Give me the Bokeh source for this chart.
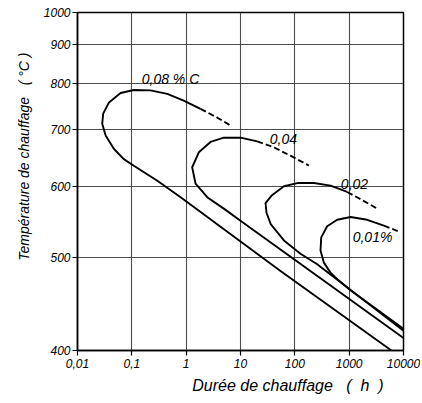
import numpy as np
from bokeh.plotting import figure
from bokeh.models import FixedTicker, CustomJSTickFormatter, Label, Title
from bokeh.embed import file_html
from bokeh.resources import INLINE

# ---- data: heating time (h) and temperature (°C) ----
hours_008 = [6000, 54.5, 0.79, 0.29, 0.107, 0.071, 0.047, 0.033, 0.0285, 0.0297,
             0.038, 0.062, 0.109, 0.22, 0.45, 0.9, 1.84]
temp_008 = [400, 484, 583, 609, 634, 645, 663, 688, 711, 732,
            756, 777, 784, 783, 775, 760, 742]
hours_008_dash = [1.84, 3.7, 6.5]
temp_008_dash = [742, 724, 708]

hours_004 = [10000, 224, 10.75, 4.93, 2.44, 1.49, 1.29, 1.71, 2.81, 4.93, 10, 20.3]
temp_004 = [412, 481, 547, 566, 583, 604, 631, 657, 676, 684, 684, 677]
hours_004_dash = [20.3, 41, 83, 181]
temp_004_dash = [677, 666, 651, 634]

hours_002 = [10000, 258, 127, 63, 36, 30.1, 28.9, 38, 63, 111, 224, 454, 921]
temp_002 = [419, 492, 505, 522, 544, 560, 574, 586, 600, 605, 605, 601, 591]
hours_002_dash = [921, 1618, 3283]
temp_002_dash = [591, 580, 566]

hours_001 = [10000, 1105, 637, 454, 342, 297, 306, 394, 603, 1059, 2149, 4344]
temp_001 = [421, 461, 473, 482, 494, 509, 526, 541, 550, 554, 550, 542]
hours_001_dash = [4344, 8810]
temp_001_dash = [542, 533]

curve_labels = ["0,08 % C", "0,04", "0,02", "0,01%"]
label_hours = [0.515, 61.6, 1253, 2692]
label_temps = [811, 682, 604, 527]

x_ticks = [0.01, 0.1, 1, 10, 100, 1000, 10000]
x_tick_labels = ["0,01", "0,1", "1", "10", "100", "1000", "10000"]
y_ticks_c = [400, 500, 600, 700, 800, 900, 1000]

NB = "\u00a0"
x_title = "Durée de chauffage" + NB * 3 + "(" + NB * 2 + "h" + NB * 2 + ")"
y_title = "Température de chauffage" + NB * 3 + "(" + NB + "°C" + NB + ")"


def inv_t(temp_c):
    """Arrhenius-type temperature axis: -1000 / T(K)."""
    return (-1000.0 / (np.asarray(temp_c, dtype=float) + 273.0)).tolist()


FONT = "Liberation Sans"

p = figure(x_axis_type="log", x_range=(0.01, 10000),
           y_range=(inv_t([400])[0], inv_t([1000])[0]),
           frame_width=326, frame_height=338,
           min_border_left=77, min_border_right=17,
           min_border_top=12, min_border_bottom=50,
           output_backend="svg", toolbar_location=None)

p.background_fill_color = "white"
p.border_fill_color = "white"
p.outline_line_color = "black"
p.outline_line_width = 1.5

# axes
p.xaxis.ticker = FixedTicker(ticks=x_ticks)
p.xaxis.formatter = CustomJSTickFormatter(
    args=dict(tvals=x_ticks, tlabels=x_tick_labels),
    code="""
    for (let i = 0; i < tvals.length; i++) {
        if (Math.abs(Math.log10(tvals[i]) - Math.log10(tick)) < 1e-6) return tlabels[i];
    }
    return "";
    """)
p.yaxis.ticker = FixedTicker(ticks=inv_t(y_ticks_c))
p.yaxis.formatter = CustomJSTickFormatter(
    code="return String(Math.round(-1000.0 / tick - 273.0));")

for ax in (p.xaxis, p.yaxis):
    ax.axis_line_color = "black"
    ax.axis_line_width = 1.5
    ax.major_tick_line_color = "black"
    ax.major_tick_line_width = 1.2
    ax.major_tick_out = 5
    ax.major_tick_in = 0
    ax.minor_tick_line_color = None
    ax.major_label_text_font = FONT
    ax.major_label_text_font_style = "italic"
    ax.major_label_text_font_size = "12px"
    ax.major_label_text_color = "black"
p.yaxis.major_label_standoff = 2
p.xaxis.major_label_standoff = 3

p.xgrid.ticker = FixedTicker(ticks=x_ticks)
p.ygrid.ticker = FixedTicker(ticks=inv_t(y_ticks_c))
for g in (p.xgrid, p.ygrid):
    g.grid_line_color = "#3a3a3a"
    g.grid_line_width = 1.1
    g.grid_line_alpha = 0.9

# curves
solid = [(hours_008, temp_008), (hours_004, temp_004), (hours_002, temp_002), (hours_001, temp_001)]
dashed = [(hours_008_dash, temp_008_dash), (hours_004_dash, temp_004_dash),
          (hours_002_dash, temp_002_dash), (hours_001_dash, temp_001_dash)]
for h, t in solid:
    p.line(h, inv_t(t), line_color="black", line_width=1.9, line_join="round")
for h, t in dashed:
    p.line(h, inv_t(t), line_color="black", line_width=1.9, line_dash="6 3")

# curve labels
for txt, h, t in zip(curve_labels, label_hours, label_temps):
    p.add_layout(Label(x=h, y=inv_t([t])[0], text=txt, text_align="center",
                       text_baseline="middle", text_font=FONT,
                       text_font_style="italic", text_font_size="14px",
                       text_color="black"))

# axis titles
p.add_layout(Title(text=y_title, align="right", offset=40, standoff=18,
                   text_font=FONT, text_font_style="italic",
                   text_font_size="14px", text_color="black"), "left")
p.add_layout(Title(text=x_title, align="right", offset=20, standoff=8,
                   text_font=FONT, text_font_style="italic",
                   text_font_size="16px", text_color="black"), "below")

open("out.html", "w").write(file_html(p, INLINE))
